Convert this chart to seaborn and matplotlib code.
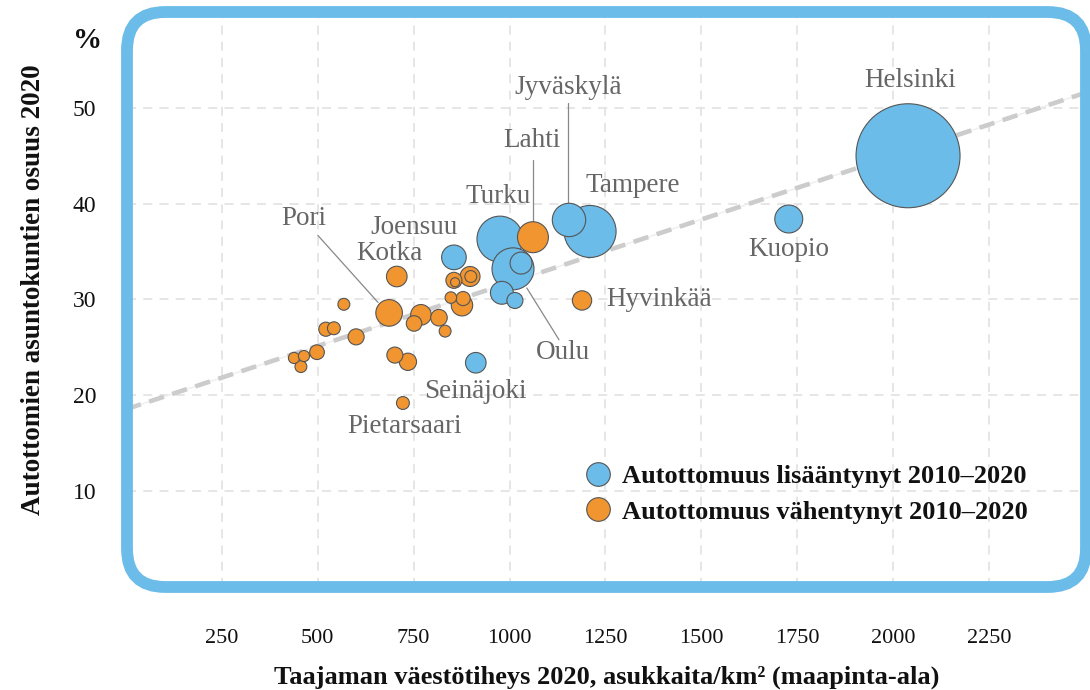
import numpy as np
import pandas as pd
import matplotlib.pyplot as plt
import seaborn as sns
from matplotlib.patches import FancyBboxPatch
from matplotlib.lines import Line2D

# Taajamat: väestötiheys (as/km2), autottomien osuus (%), koko (tuhatta as.), ryhmä
kaupungit = ['Helsinki', 'Kuopio', 'Tampere', 'Jyväskylä', 'Turku', 'Oulu', '', '', '',
             'Joensuu', 'Seinäjoki',
             'Lahti', 'Hyvinkää', 'Kotka', 'Pori', 'Pietarsaari',
             '', '', '', '', '', '', '', '', '', '', '', '', '', '', '', '', '', '', '', '', '']
tiheys = [2039, 1728, 1210, 1155, 975, 1009, 1030, 980, 1014, 855, 912,
          1061, 1189, 706, 686, 722,
          568, 769, 751, 816, 832, 876, 847, 879, 855, 858, 897, 899,
          521, 542, 600, 498, 438, 464, 456, 701, 735]
autottomat = [45.0, 38.4, 37.1, 38.3, 36.3, 33.2, 33.8, 30.7, 29.9, 34.4, 23.4,
              36.5, 29.9, 32.4, 28.6, 19.2,
              29.5, 28.4, 27.5, 28.1, 26.7, 29.4, 30.2, 30.1, 32.0, 31.8, 32.4, 32.4,
              26.9, 27.0, 26.1, 24.5, 23.9, 24.1, 23.0, 24.2, 23.5]
vakiluku = [1300, 94, 325, 134, 254, 212, 58, 63, 31, 73, 51,
            115, 45, 51, 85, 20,
            17, 51, 29, 33, 17, 55, 16, 24, 31, 10, 48, 17,
            24, 20, 31, 26, 15, 15, 17, 31, 36]
ryhmat = ['Autottomuus lisääntynyt 2010–2020'] * 11 + ['Autottomuus vähentynyt 2010–2020'] * 26

# trendiviiva
trendi_x = [0, 2510]
trendi_a, trendi_b = 18.55, 0.0132

df = pd.DataFrame({'kaupunki': kaupungit, 'x': tiheys, 'y': autottomat,
                   'vakiluku': vakiluku, 'ryhma': ryhmat})
df = df.sort_values('vakiluku', ascending=False)

sininen = '#6bbce8'
oranssi = '#f0952f'
paletti = {'Autottomuus lisääntynyt 2010–2020': sininen,
           'Autottomuus vähentynyt 2010–2020': oranssi}

sns.set_theme(style="white")
plt.rcParams['font.family'] = ['Liberation Serif', 'DejaVu Serif']

fig = plt.figure(figsize=(10.9, 6.9), dpi=100)
ax = fig.add_axes([127 / 1090, 103 / 690, 959 / 1090, 575 / 690])

ax.set_xlim(2.6, 2503)
ax.set_ylim(0, 60)
ax.set_xticks([250, 500, 750, 1000, 1250, 1500, 1750, 2000, 2250])
ax.set_yticks([10, 20, 30, 40, 50])
ax.grid(True, color='#e4e4e4', linestyle=(0, (5, 4)), linewidth=1.3)
ax.set_axisbelow(True)
for s in ax.spines.values():
    s.set_visible(False)

# trendiviiva: ohut viiva + paksu katkoviiva
tx = np.array(trendi_x)
ax.plot(tx, trendi_a + trendi_b * tx, color='#eeeeee', lw=1.0, zorder=1)
ax.plot(tx, trendi_a + trendi_b * tx, color='#cccccc', lw=3.3,
        linestyle=(0, (3.4, 1.9)), zorder=1)

sns.scatterplot(data=df, x='x', y='y', hue='ryhma', size='vakiluku',
                sizes=(0, 5606), size_norm=(0, 1300), palette=paletti,
                edgecolor='#555555', linewidth=0.8, alpha=1, legend=False,
                ax=ax, zorder=3)
ax.set_xlabel('')
ax.set_ylabel('')

# nimet
nimet = {
    'Helsinki': (2044, 52.9, 'center'),
    'Kuopio': (1728, 35.2, 'center'),
    'Tampere': (1322, 41.9, 'center'),
    'Jyväskylä': (1152, 52.1, 'center'),
    'Lahti': (1058, 46.6, 'center'),
    'Turku': (970, 40.7, 'center'),
    'Joensuu': (751, 37.5, 'center'),
    'Pori': (464, 38.4, 'center'),
    'Kotka': (688, 34.8, 'center'),
    'Hyvinkää': (1251, 30.0, 'left'),
    'Oulu': (1139, 24.5, 'center'),
    'Seinäjoki': (912, 20.4, 'center'),
    'Pietarsaari': (725, 16.7, 'center'),
}
for nimi, (lx, ly, ha) in nimet.items():
    ax.text(lx, ly, nimi, ha=ha, va='center', fontsize=19.5, color='#666666', zorder=5)

viivat = [((1152, 50.5), (1152, 40.1)),
          ((1061, 44.6), (1061, 38.1)),
          ((500, 36.7), (657, 29.7)),
          ((1045, 31.2), (1129, 25.8))]
for (x0, y0), (x1, y1) in viivat:
    ax.plot([x0, x1], [y0, y1], color='#888888', lw=0.9, zorder=2)

ax.tick_params(axis='x', length=0, pad=30, labelsize=16, labelcolor='#111111')
ax.tick_params(axis='y', length=0, pad=22, labelsize=17, labelcolor='#111111')

fig.text(34 / 1090, 1 - 290 / 690, 'Autottomien asuntokuntien osuus 2020', rotation=90,
         ha='center', va='center', fontsize=19.5, fontweight='bold', color='#111111')
fig.text(607 / 1090, 1 - 677 / 690, 'Taajaman väestötiheys 2020, asukkaita/km² (maapinta-ala)',
         ha='center', va='center', fontsize=19, fontweight='bold', color='#111111')
fig.text(88 / 1090, 1 - 40 / 690, '%', ha='center', va='center', fontsize=21,
         fontweight='bold', color='#111111')

# pyöristetty kehys
kehys = FancyBboxPatch((0, 0), 1, 1, transform=ax.transAxes,
                       boxstyle='round,pad=0,rounding_size=0.04',
                       mutation_aspect=959 / 575, facecolor='none',
                       edgecolor=sininen, linewidth=8.5, clip_on=False, zorder=10)
ax.add_patch(kehys)

kahvat = [Line2D([], [], marker='o', linestyle='none', markersize=17,
                 markerfacecolor=paletti[r], markeredgecolor='#555555',
                 markeredgewidth=0.8) for r in paletti]
leg = ax.legend(kahvat, list(paletti), loc='upper left', bbox_to_anchor=(0.461, 0.231),
                frameon=False, handlelength=1.4, handletextpad=0.2, labelspacing=0.45,
                borderaxespad=0, prop={'size': 19, 'weight': 'bold'})
for t in leg.get_texts():
    t.set_color('#111111')

fig.savefig('out.png', dpi=100)
